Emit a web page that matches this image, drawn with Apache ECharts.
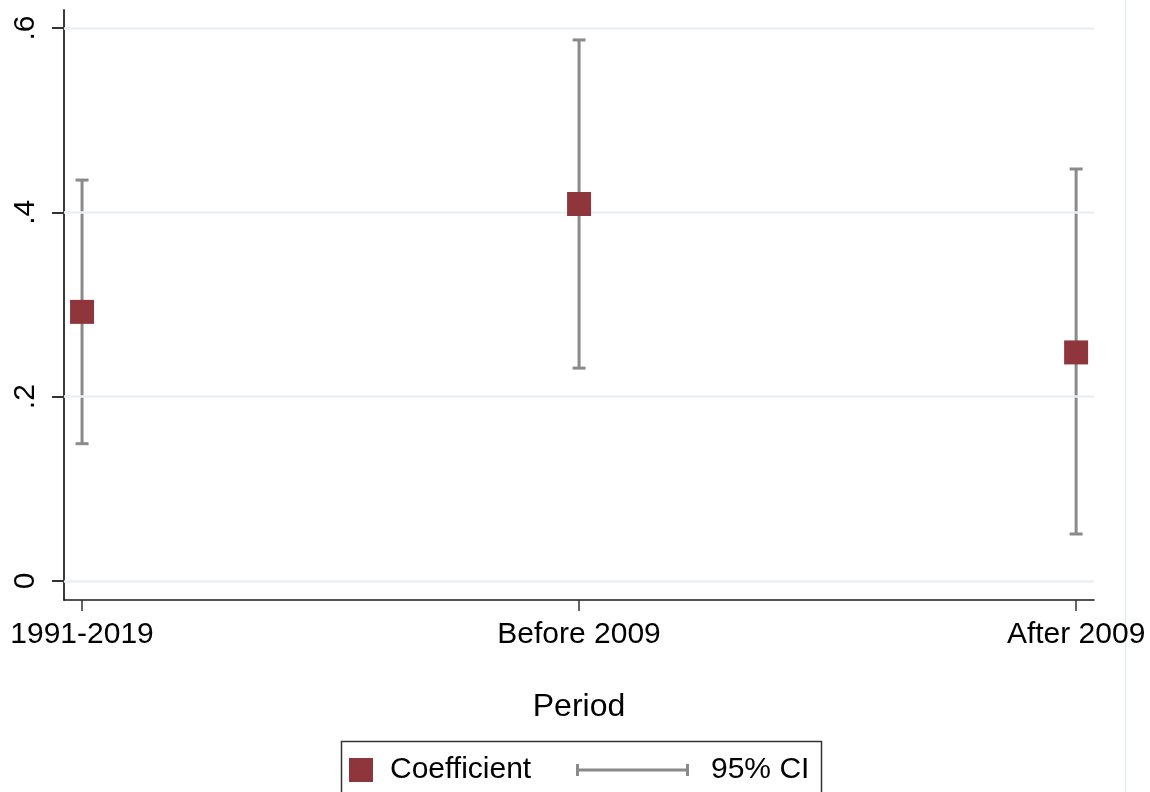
<!DOCTYPE html>
<html>
<head>
<meta charset="utf-8">
<script src="https://cdn.jsdelivr.net/npm/echarts@6/dist/echarts.min.js"></script>
<style>
  html, body { margin: 0; padding: 0; background: #ffffff; }
  #chart { width: 1150px; height: 792px; }
</style>
</head>
<body>
<div id="chart"></div>
<script>
// Estimated coefficients with 95% confidence intervals, by period
const categories = ['1991-2019', 'Before 2009', 'After 2009'];
const positions = [1, 2, 3];
const coef = [0.292, 0.409, 0.248];
const ciLow = [0.149, 0.231, 0.051];
const ciHigh = [0.435, 0.587, 0.447];

const yTickValues = [0, 0.2, 0.4, 0.6];
const yTickLabels = ['0', '.2', '.4', '.6'];

const FONT = "'Liberation Sans', Arial, Helvetica, sans-serif";
const MARKER = '#8f353c';
const CI_GREY = '#8a8a8a';

const chart = echarts.init(document.getElementById('chart'), null, { renderer: 'canvas' });

const pointData = positions.map((p, i) => [p, coef[i]]);
const ciData = positions.map((p, i) => [p, ciLow[i], ciHigh[i]]);

// Vertical interval line with end caps, placed through the axis scales
function renderCI(params, api) {
  const x = api.value(0);
  const lo = api.coord([x, api.value(1)]);
  const hi = api.coord([x, api.value(2)]);
  const hw = 6.5;
  const style = { stroke: CI_GREY, lineWidth: 3 };
  return {
    type: 'group',
    children: [
      { type: 'line', shape: { x1: lo[0], y1: lo[1], x2: hi[0], y2: hi[1] }, style },
      { type: 'line', shape: { x1: hi[0] - hw, y1: hi[1], x2: hi[0] + hw, y2: hi[1] }, style },
      { type: 'line', shape: { x1: lo[0] - hw, y1: lo[1], x2: lo[0] + hw, y2: lo[1] }, style }
    ]
  };
}

const option = {
  backgroundColor: '#ffffff',
  animation: false,
  textStyle: { fontFamily: FONT },
  grid: { left: 64, right: 56, top: 10, bottom: 192, containLabel: false },
  xAxis: {
    type: 'value',
    min: 0.9637,
    max: 3.036,
    axisLine: { show: true, onZero: false, lineStyle: { color: '#1a1a1a', width: 1.5 } },
    axisTick: { show: true, customValues: positions, length: 11, lineStyle: { color: '#333', width: 1.5 } },
    axisLabel: {
      customValues: positions,
      formatter: v => categories[positions.indexOf(Math.round(v))] || '',
      fontSize: 30, color: '#000', fontFamily: FONT, margin: 20
    },
    splitLine: { show: false },
    name: 'Period',
    nameLocation: 'middle',
    nameGap: 91,
    nameTextStyle: { fontSize: 32, color: '#000', fontFamily: FONT }
  },
  yAxis: {
    type: 'value',
    min: -0.0206,
    max: 0.6195,
    axisLine: { show: true, onZero: false, lineStyle: { color: '#3a3a3a', width: 2 } },
    axisTick: { show: true, customValues: yTickValues, length: 12, lineStyle: { color: '#333', width: 2 } },
    axisLabel: {
      customValues: yTickValues,
      formatter: v => yTickLabels[yTickValues.findIndex(t => Math.abs(t - v) < 1e-6)] || '',
      rotate: 90, fontSize: 30, color: '#000', fontFamily: FONT, margin: 23
    },
    splitLine: { show: false }
  },
  legend: [
    {
      left: 349, top: 755, padding: 0,
      itemWidth: 24, itemHeight: 24,
      selectedMode: false,
      data: [{ name: 'Coefficient', icon: 'rect', itemStyle: { color: MARKER, opacity: 1 } }],
      textStyle: { fontSize: 30, color: '#000', fontFamily: FONT, padding: [0, 0, 0, 12] }
    },
    {
      left: 576, top: 755, padding: 0,
      itemWidth: 113, itemHeight: 24,
      selectedMode: false,
      data: [{
        name: '95% CI',
        icon: 'path://M0,0h3v12h-3z M0,4.5h113v3h-113z M110,0h3v12h-3z',
        itemStyle: { color: CI_GREY }
      }],
      textStyle: { fontSize: 30, color: '#000', fontFamily: FONT, padding: [0, 0, 0, 17] }
    }
  ],
  graphic: [
    {
      type: 'rect', left: 339, top: 739, silent: true,
      shape: { width: 480, height: 60 },
      style: { fill: 'none', stroke: '#333', lineWidth: 1.5 }
    },
    {
      type: 'line', silent: true,
      shape: { x1: 1125.5, y1: 0, x2: 1125.5, y2: 792 },
      style: { stroke: '#e4eced', lineWidth: 1.5 }
    }
  ],
  series: [
    {
      name: 'grid',
      type: 'line',
      data: [],
      z: 1,
      silent: true,
      markLine: {
        silent: true,
        symbol: ['none', 'none'],
        label: { show: false },
        lineStyle: { color: '#e9f1f3', width: 2.5, type: 'solid' },
        data: yTickValues.map(v => ({ yAxis: v }))
      }
    },
    {
      name: '95% CI',
      type: 'custom',
      renderItem: renderCI,
      data: ciData,
      itemStyle: { color: CI_GREY },
      z: 3
    },
    {
      name: 'Coefficient',
      type: 'scatter',
      data: pointData,
      symbol: 'rect',
      symbolSize: 24,
      itemStyle: { color: MARKER, opacity: 1 },
      z: 5
    }
  ]
};

chart.setOption(option);
</script>
</body>
</html>
